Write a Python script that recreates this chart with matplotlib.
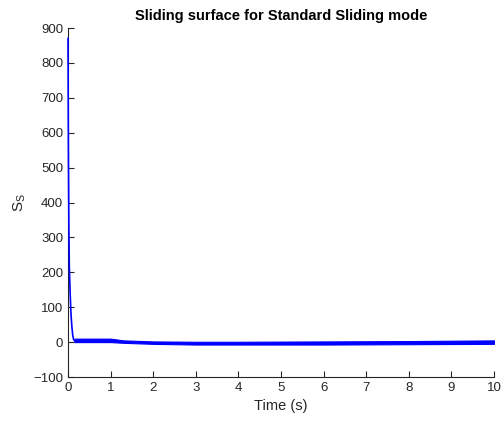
import matplotlib
matplotlib.use("Agg")
import matplotlib.pyplot as plt
import numpy as np

plt.rcParams['font.family'] = ['Liberation Sans', 'DejaVu Sans']

# Initial decay of the sliding surface
t_spike = [0.0, 0.0, 0.005, 0.01, 0.02, 0.03, 0.05, 0.07, 0.09, 0.11, 0.13, 0.15]
s_spike = [870, 870, 680, 520, 330, 220, 140, 80, 45, 20, 8, 4]

# Chattering band after reaching surface (upper/lower envelope)
t_band = [0.15, 0.5, 1.0, 1.3, 2.0, 3.0, 4.0, 6.0, 8.0, 10.0]
s_upper = [10, 10, 10, 5, 2, 1, 1, 2, 3, 5]
s_lower = [0, 0, 0, -2, -5, -7, -7, -7, -6, -5]

xticks = list(range(0, 11))
yticks = list(range(-100, 901, 100))

fig = plt.figure(figsize=(5.02, 4.22), dpi=100)
ax = fig.add_axes([0.1355, 0.1066, 0.8485, 0.827])

ax.plot(t_spike, s_spike, color='#0000ff', lw=1.2, clip_on=False, zorder=5)
ax.fill_between(t_band, s_lower, s_upper, color='#0000ff', lw=0.8, edgecolor='#0000ff', zorder=4)

ax.set_xlim(0, 10)
ax.set_ylim(-100, 900)
ax.set_xticks(xticks)
ax.set_yticks(yticks)
for s in ['top', 'right']:
    ax.spines[s].set_visible(False)
for s in ['left', 'bottom']:
    ax.spines[s].set_color('#262626')
    ax.spines[s].set_linewidth(0.8)
    ax.spines[s].set_zorder(2)
ax.tick_params(axis='both', which='both', direction='in', length=4, width=0.8,
               colors='#262626', labelsize=9.5)

ax.set_title('Sliding surface for Standard Sliding mode', fontsize=10.5, fontweight='bold', pad=6)
ax.set_xlabel('Time (s)', fontsize=10.5, color='#262626')
ax.set_ylabel('$\\mathregular{S_S}$', fontsize=11, color='#262626')

fig.savefig('out.png', dpi=100)
